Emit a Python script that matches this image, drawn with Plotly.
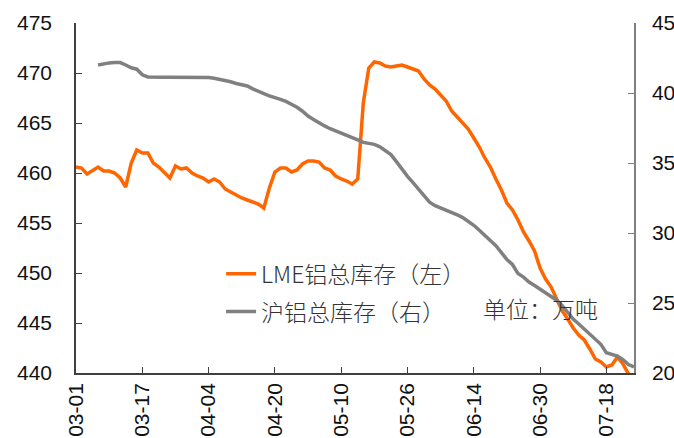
import plotly.graph_objects as go

# trading-day index 0..101, tick labels every 12 trading days
tick_idx = [0, 12, 24, 36, 48, 60, 72, 84, 96]
tick_labels = ["03-01", "03-17", "04-04", "04-20", "05-10", "05-26", "06-14", "06-30", "07-18"]

lme_stock = [
    460.6, 460.5, 459.9, 460.2, 460.6, 460.2, 460.2, 460.0, 459.5, 458.6,
    461.0, 462.3, 462.0, 462.0, 461.0, 460.6, 460.0, 459.5, 460.7, 460.4,
    460.5, 460.0, 459.7, 459.5, 459.1, 459.4, 459.1, 458.4, 458.1, 457.8,
    457.5, 457.3, 457.1, 456.9, 456.5, 458.5, 460.1, 460.5, 460.5, 460.1,
    460.3, 460.9, 461.2, 461.2, 461.1, 460.5, 460.3, 459.7, 459.4, 459.2,
    458.9, 459.4, 467.0, 470.5, 471.1, 471.0, 470.7, 470.6, 470.7, 470.8,
    470.6, 470.4, 470.2, 469.4, 468.8, 468.4, 467.8, 467.2, 466.2, 465.6,
    465.0, 464.4, 463.5, 462.6, 461.5, 460.6, 459.4, 458.3, 457.0, 456.3,
    455.3, 454.1, 453.2, 452.2, 450.5, 449.4, 448.6, 447.4, 446.2, 445.4,
    444.5, 443.8, 443.3, 442.4, 441.4, 441.1, 440.6, 440.8, 441.6, 440.9,
    439.9, 439.3,
]

shfe_stock = [
    None, None, None, None, 42.0, 42.1, 42.15, 42.17, 42.17, 42.0,
    41.8, 41.7, 41.3, 41.15, 41.12, 41.12, 41.12, 41.12, 41.12, 41.12,
    41.12, 41.12, 41.12, 41.12, 41.1, 41.05, 40.98, 40.9, 40.8, 40.68,
    40.57, 40.5, 40.3, 40.1, 39.95, 39.8, 39.7, 39.55, 39.4, 39.2,
    38.98, 38.7, 38.35, 38.1, 37.85, 37.65, 37.45, 37.3, 37.15, 36.95,
    36.8, 36.65, 36.47, 36.4, 36.33, 36.15, 35.9, 35.6, 35.1, 34.55,
    34.05, 33.6, 33.1, 32.6, 32.2, 31.95, 31.8, 31.65, 31.5, 31.3,
    31.1, 30.85, 30.55, 30.2, 29.85, 29.5, 29.1, 28.6, 28.1, 27.75,
    27.1, 26.85, 26.5, 26.25, 26.0, 25.7, 25.45, 25.2, 24.8, 24.35,
    23.85, 23.5, 23.15, 22.8, 22.45, 22.05, 21.45, 21.3, 21.2, 20.95,
    20.6, 20.43,
]

x_idx = list(range(len(lme_stock)))

NUM_FONT = "Liberation Sans, Arial, sans-serif"
CJK_FONT = "Noto Sans CJK SC, sans-serif"

fig = go.Figure()
fig.add_trace(go.Scatter(
    x=x_idx, y=lme_stock, name="LME铝总库存（左）", mode="lines",
    line=dict(color="#FF6600", width=3.5), legendgroup="a",
))
fig.add_trace(go.Scatter(
    x=x_idx, y=shfe_stock, name="沪铝总库存（右）", mode="lines",
    line=dict(color="#808080", width=3.5), yaxis="y2", legendgroup="b",
))

fig.update_layout(
    width=674, height=438,
    margin=dict(l=76, r=40, t=23, b=65),
    paper_bgcolor="white", plot_bgcolor="white",
    showlegend=True,
    legend=dict(
        x=0.26, y=0.345, xanchor="left", yanchor="top",
        bgcolor="rgba(0,0,0,0)",
        font=dict(family=CJK_FONT, size=23, color="#333", weight=300),
        tracegroupgap=5,
    ),
    xaxis=dict(
        range=[0, 101], tickmode="array", tickvals=tick_idx, ticktext=tick_labels,
        tickangle=-90, ticks="inside", ticklen=6, tickcolor="#404040", automargin=False,
        showline=True, linecolor="#404040", linewidth=1.5, showgrid=False, zeroline=False,
        tickfont=dict(family=NUM_FONT, size=21, color="#111"),
    ),
    yaxis=dict(
        range=[440, 475], dtick=5, ticks="inside", ticklen=6, tickcolor="#404040", automargin=False,
        showline=True, linecolor="#404040", linewidth=1.5, showgrid=False, zeroline=False,
        tickfont=dict(family=NUM_FONT, size=21, color="#111"), ticklabelstandoff=18,
    ),
    yaxis2=dict(
        range=[20, 45], dtick=5, overlaying="y", side="right", anchor="x", automargin=False,
        ticks="inside", ticklen=6, tickcolor="#808080",
        showline=True, linecolor="#808080", linewidth=1.5, showgrid=False, zeroline=False,
        tickfont=dict(family=NUM_FONT, size=21, color="#111"), ticklabelstandoff=12,
    ),
    annotations=[dict(
        text="单位：万吨", xref="paper", yref="paper", x=0.833, y=0.186,
        xanchor="center", yanchor="middle",
        showarrow=False, font=dict(family=CJK_FONT, size=23, color="#333", weight=300),
    )],
)

fig.write_html("out.html")
